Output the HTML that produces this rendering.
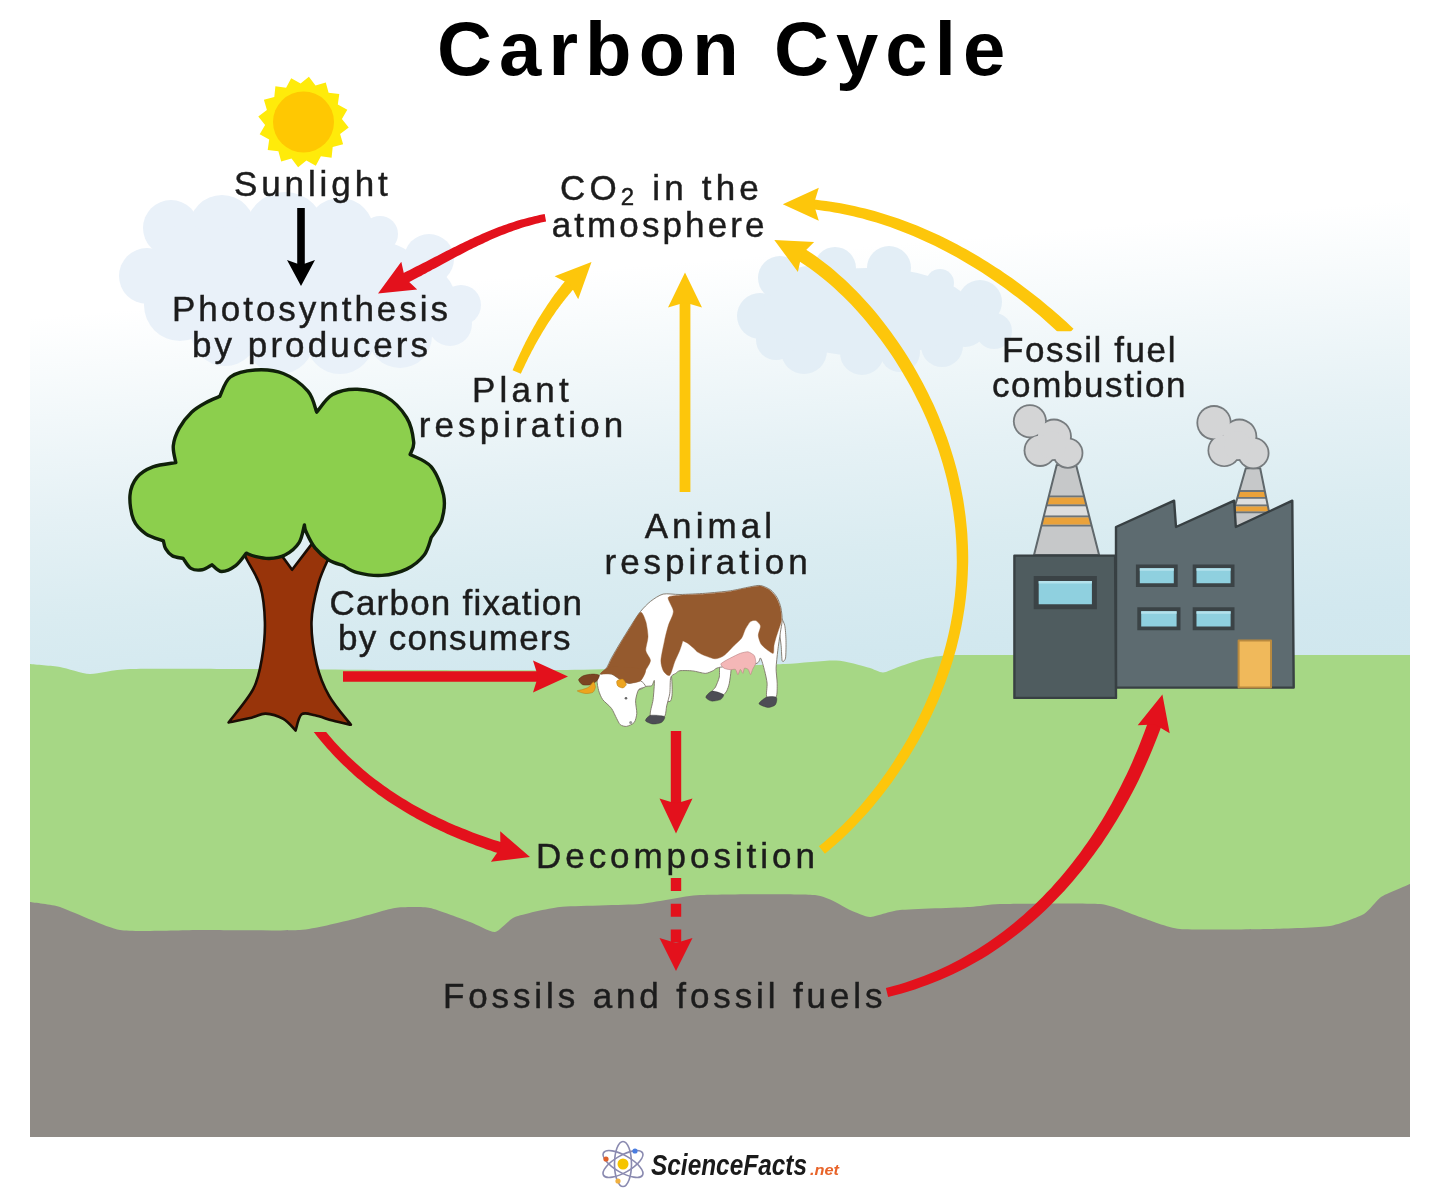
<!DOCTYPE html>
<html lang="en"><head><meta charset="utf-8"><title>Carbon Cycle</title>
<style>html,body{margin:0;padding:0;background:#fff}svg{display:block;filter:blur(0.55px)}</style>
</head><body>
<svg width="1440" height="1192" viewBox="0 0 1440 1192">
<!-- sec_bg -->
<defs>
<linearGradient id="sky" gradientUnits="userSpaceOnUse" x1="30" y1="318" x2="68.6" y2="769.7">
<stop offset="0" stop-color="#ffffff"/><stop offset="0.22" stop-color="#f2f8fa"/>
<stop offset="0.44" stop-color="#e5f1f5"/><stop offset="0.66" stop-color="#daecf1"/>
<stop offset="0.88" stop-color="#d2e8ef"/><stop offset="1" stop-color="#d0e7ee"/>
</linearGradient>
</defs>
<rect x="0" y="0" width="1440" height="1192" fill="#fff"/>
<rect x="30" y="185" width="1380" height="505" fill="url(#sky)"/>
<g fill="#e9f1f9"><circle cx="171" cy="228" r="28"/><circle cx="222" cy="228" r="33"/><circle cx="285" cy="232" r="40"/><circle cx="340" cy="232" r="34"/><circle cx="380" cy="234" r="18"/><circle cx="429" cy="259" r="25"/><circle cx="461" cy="305" r="20"/><circle cx="450" cy="324" r="22"/><circle cx="147" cy="276" r="28"/><circle cx="180" cy="305" r="36"/><circle cx="225" cy="332" r="34"/><circle cx="280" cy="340" r="34"/><circle cx="340" cy="340" r="34"/><circle cx="400" cy="336" r="32"/><circle cx="300" cy="285" r="55"/><circle cx="230" cy="275" r="48"/><circle cx="380" cy="290" r="48"/><circle cx="185" cy="255" r="30"/><circle cx="425" cy="298" r="30"/></g>
<g fill="#e3eef6"><circle cx="780" cy="278" r="22"/><circle cx="835" cy="268" r="21"/><circle cx="889" cy="268" r="22"/><circle cx="940" cy="283" r="14"/><circle cx="980" cy="302" r="22"/><circle cx="994" cy="331" r="18"/><circle cx="942" cy="346" r="21"/><circle cx="900" cy="352" r="20"/><circle cx="862" cy="353" r="22"/><circle cx="804" cy="351" r="23"/><circle cx="776" cy="340" r="20"/><circle cx="760" cy="316" r="23"/><circle cx="808" cy="292" r="26"/><circle cx="820" cy="300" r="30"/><circle cx="965" cy="325" r="22"/><ellipse cx="868" cy="312" rx="105" ry="44"/></g>
<path d="M30.0,664.0 C33.5,664.4 53.0,665.8 60.0,667.0 C67.0,668.2 81.8,673.8 90.0,674.0 C98.2,674.2 111.3,669.6 130.0,669.0 C148.7,668.4 218.5,668.9 250.0,669.0 C281.5,669.1 363.8,669.9 400.0,670.0 C436.2,670.1 525.0,670.4 560.0,670.0 C595.0,669.6 673.8,667.7 700.0,667.0 C726.2,666.3 769.1,664.8 785.0,664.0 C800.9,663.2 826.3,660.1 836.0,660.5 C845.7,660.9 862.5,666.1 868.0,667.5 C873.5,668.9 879.6,672.5 883.0,672.5 C886.4,672.5 892.6,669.0 897.0,667.5 C901.4,666.0 915.3,660.9 921.0,659.5 C926.7,658.1 936.8,656.0 946.0,655.5 C955.2,655.0 945.9,655.1 1000.0,655.0 C1054.1,654.9 1362.2,655.0 1410.0,655.0 L1410,960 L30,960Z" fill="#a6d785"/>
<path d="M30.0,902.0 C32.8,902.5 51.8,904.4 60.0,907.0 C68.2,909.6 107.2,927.9 120.0,930.0 C132.8,932.1 183.5,930.0 200.0,930.0 C216.5,930.0 286.2,930.9 300.0,930.0 C313.8,929.1 341.3,922.0 350.0,920.0 C358.7,918.0 387.7,909.1 395.0,908.0 C402.3,906.9 423.1,906.7 430.0,908.0 C436.9,909.3 464.0,919.8 470.0,922.0 C476.0,924.2 490.9,932.5 495.0,932.0 C499.1,931.5 509.0,919.3 515.0,917.0 C521.0,914.7 548.5,908.2 560.0,907.0 C571.5,905.8 627.2,905.1 640.0,904.0 C652.8,902.9 684.0,895.8 700.0,895.0 C716.0,894.2 801.2,893.6 815.0,895.0 C828.8,896.4 845.0,908.0 850.0,910.0 C855.0,912.0 865.4,917.0 870.0,917.0 C874.6,917.0 890.8,910.9 900.0,910.0 C909.2,909.1 960.8,907.5 970.0,907.0 C979.2,906.5 988.1,904.3 1000.0,904.0 C1011.9,903.7 1087.2,902.8 1100.0,904.0 C1112.8,905.2 1132.7,914.7 1140.0,917.0 C1147.3,919.3 1168.1,927.9 1180.0,929.0 C1191.9,930.1 1256.2,929.3 1270.0,929.0 C1283.8,928.7 1321.4,927.4 1330.0,926.0 C1338.6,924.6 1359.3,916.7 1364.0,914.0 C1368.7,911.3 1376.8,899.8 1381.0,897.0 C1385.2,894.2 1407.3,885.2 1410.0,884.0 L1410,1137 L30,1137Z" fill="#8f8b86"/>
<polygon points="308.9,76.8 315.5,85.4 325.8,82.4 328.6,92.8 339.3,93.9 337.8,104.6 347.3,109.7 341.9,119.1 348.7,127.4 340.1,134.0 343.1,144.3 332.7,147.1 331.6,157.8 320.9,156.3 315.8,165.8 306.4,160.4 298.1,167.2 291.5,158.6 281.2,161.6 278.4,151.2 267.7,150.1 269.2,139.4 259.7,134.3 265.1,124.9 258.3,116.6 266.9,110.0 263.9,99.7 274.3,96.9 275.4,86.2 286.1,87.7 291.2,78.2 300.6,83.6" fill="#ffeb0a"/><circle cx="303.5" cy="122" r="30.5" fill="#ffc802"/>
<!-- sec_tree -->
<path d="M241.0,546.2 C241.9,548.2 243.1,551.8 246.3,558.5 C249.5,565.2 257.3,576.1 260.4,586.7 C263.5,597.3 264.6,610.1 264.9,621.9 C265.2,633.6 264.0,646.0 262.1,657.2 C260.2,668.4 258.9,678.0 253.3,688.9 C247.7,699.8 232.7,716.8 228.6,722.4 C232.4,721.6 245.3,719.3 251.5,717.8 C257.7,716.3 260.3,713.4 265.6,713.6 C270.9,713.8 278.3,716.1 283.3,718.9 C288.3,721.7 293.6,728.6 295.6,730.5 C296.6,727.8 298.4,716.8 301.6,714.3 C304.8,711.8 309.8,714.2 315.0,715.3 C320.2,716.3 326.6,719.0 332.6,720.6 C338.6,722.2 347.8,724.1 350.9,724.8 C347.3,720.0 334.8,706.0 329.1,695.9 C323.4,685.8 319.6,676.5 316.7,664.2 C313.8,651.9 311.2,635.4 311.5,621.9 C311.8,608.4 315.3,594.7 318.5,583.2 C321.7,571.8 327.8,560.6 330.8,553.2 C333.9,545.9 335.8,541.5 336.8,539.1 L311.5,544.4 L292.1,569.8 L276.2,547.9Z" fill="#98340a" stroke="#1a0d05" stroke-width="2.6" stroke-linejoin="round"/>
<path d="M219.8,396.4 C221.6,393.2 224.5,381.4 230.4,377.0 C236.3,372.6 246.3,370.6 255.1,370.0 C263.9,369.4 274.5,370.0 283.3,373.5 C292.1,377.0 302.3,384.7 307.9,391.1 C313.5,397.6 315.2,408.7 316.7,412.2 C319.4,409.3 325.8,398.4 332.6,394.6 C339.4,390.8 348.5,389.0 357.3,389.3 C366.1,389.6 377.3,391.7 385.5,396.4 C393.7,401.1 401.9,409.9 406.6,417.5 C411.3,425.1 413.1,436.0 413.7,442.2 C414.3,448.4 410.7,452.4 410.1,454.5 C413.6,456.6 425.7,460.1 431.3,466.9 C436.9,473.7 441.8,486.3 443.6,495.1 C445.4,503.9 443.9,512.7 441.9,519.7 C439.8,526.8 433.1,534.5 431.3,537.4 C430.1,540.3 428.3,549.7 424.2,555.0 C420.1,560.3 413.7,565.7 406.6,569.1 C399.6,572.5 390.1,574.8 381.9,575.4 C373.7,576.0 363.8,574.2 357.3,572.6 C350.9,571.0 345.6,566.8 343.2,565.6 C340.9,564.7 333.8,563.2 329.1,560.3 C324.4,557.3 318.8,552.6 315.0,547.9 C311.2,543.2 308.0,535.9 306.2,532.1 C304.4,528.3 304.7,526.2 304.4,525.0 C303.5,527.9 302.3,537.6 299.1,542.6 C295.9,547.6 290.0,552.4 285.0,555.0 C280.0,557.6 274.2,558.3 269.2,558.5 C264.2,558.7 258.9,557.3 255.1,556.4 C251.3,555.5 247.8,553.7 246.3,553.2 C244.5,555.3 239.8,562.6 235.7,565.6 C231.6,568.6 225.5,571.6 221.6,571.5 C217.7,571.4 213.7,565.9 212.1,564.8 C210.4,565.6 205.7,569.2 202.2,569.8 C198.7,570.4 194.1,570.3 190.9,568.4 C187.7,566.5 184.5,560.1 183.2,558.5 C181.4,558.0 175.1,557.4 172.2,555.7 C169.3,554.1 167.1,551.1 165.6,548.6 C164.1,546.1 163.8,542.2 163.4,540.9 C160.5,539.7 150.8,537.3 145.8,533.8 C140.8,530.3 136.1,526.2 133.5,519.7 C130.9,513.2 129.4,502.2 130.0,495.1 C130.6,488.1 133.2,482.1 137.0,477.4 C140.8,472.7 146.4,469.4 152.9,466.9 C159.4,464.4 172.0,463.3 175.8,462.6 C175.4,459.8 172.7,451.4 173.3,445.7 C173.9,439.9 176.2,433.7 179.3,428.1 C182.4,422.5 187.2,416.4 191.6,412.2 C196.0,408.0 201.0,405.3 205.7,402.7 C210.4,400.1 217.5,397.4 219.8,396.4Z" fill="#8ccf4d" stroke="#10200a" stroke-width="3.4" stroke-linejoin="round"/>
<!-- sec_factory -->
<polygon points="1056.7,465.0 1076.1,465.0 1099.1,555.0 1034.0,555.0" fill="#c6c8c9"/>
<polygon points="1046.3,506.3 1086.6,506.3 1089.0,515.4 1044.0,515.4" fill="#dddede"/>
<polygon points="1049.0,495.5 1083.9,495.5 1084.4,497.4 1048.5,497.4" fill="#6d7478"/>
<polygon points="1046.8,504.3 1086.1,504.3 1086.6,506.3 1046.3,506.3" fill="#6d7478"/>
<polygon points="1048.5,497.4 1084.4,497.4 1086.1,504.3 1046.8,504.3" fill="#eaa23a"/>
<polygon points="1044.0,515.4 1089.0,515.4 1089.5,517.4 1043.5,517.4" fill="#6d7478"/>
<polygon points="1041.7,524.6 1091.3,524.6 1091.8,526.5 1041.2,526.5" fill="#6d7478"/>
<polygon points="1043.5,517.4 1089.5,517.4 1091.3,524.6 1041.7,524.6" fill="#eaa23a"/>
<polygon points="1056.7,465.0 1076.1,465.0 1099.1,555.0 1034.0,555.0" fill="none" stroke="#60686c" stroke-width="2" stroke-linejoin="round"/>
<g fill="#767b7e"><circle cx="1029.9" cy="421.3" r="17.0"/><circle cx="1054.0" cy="436.5" r="17.9"/><circle cx="1067.8" cy="453.1" r="15.6"/><circle cx="1040.1" cy="450.4" r="16.5"/><circle cx="1052.3" cy="445.4" r="15.6"/></g><g fill="#d4d5d6"><circle cx="1029.9" cy="421.3" r="15.2"/><circle cx="1054.0" cy="436.5" r="16.1"/><circle cx="1067.8" cy="453.1" r="13.8"/><circle cx="1040.1" cy="450.4" r="14.7"/><circle cx="1052.3" cy="445.4" r="13.8"/></g>
<polygon points="1245.8,468.3 1260.2,468.3 1272.4,528.4 1228.6,528.4" fill="#c6c8c9"/>
<polygon points="1237.1,498.8 1266.4,498.8 1267.6,504.6 1235.5,504.6" fill="#dddede"/>
<polygon points="1239.6,489.9 1264.6,489.9 1265.0,491.9 1239.1,491.9" fill="#6d7478"/>
<polygon points="1237.7,496.9 1266.0,496.9 1266.4,498.8 1237.1,498.8" fill="#6d7478"/>
<polygon points="1239.1,491.9 1265.0,491.9 1266.0,496.9 1237.7,496.9" fill="#eaa23a"/>
<polygon points="1235.5,504.6 1267.6,504.6 1268.0,506.6 1234.9,506.6" fill="#6d7478"/>
<polygon points="1233.6,511.3 1268.9,511.3 1269.3,513.2 1233.0,513.2" fill="#6d7478"/>
<polygon points="1234.9,506.6 1268.0,506.6 1268.9,511.3 1233.6,511.3" fill="#eaa23a"/>
<polygon points="1245.8,468.3 1260.2,468.3 1272.4,528.4 1228.6,528.4" fill="none" stroke="#60686c" stroke-width="2" stroke-linejoin="round"/>
<g fill="#767b7e"><circle cx="1214.0" cy="422.7" r="17.6"/><circle cx="1239.4" cy="436.5" r="17.9"/><circle cx="1253.3" cy="453.1" r="16.2"/><circle cx="1224.2" cy="450.4" r="16.7"/><circle cx="1237.8" cy="445.4" r="15.6"/></g><g fill="#d4d5d6"><circle cx="1214.0" cy="422.7" r="15.8"/><circle cx="1239.4" cy="436.5" r="16.1"/><circle cx="1253.3" cy="453.1" r="14.4"/><circle cx="1224.2" cy="450.4" r="15.0"/><circle cx="1237.8" cy="445.4" r="13.8"/></g>
<polygon points="1116.0,527.0 1174.1,500.7 1176.0,527.0 1234.2,500.7 1235.8,527.0 1292.3,500.7 1293.7,687.6 1116.0,687.6" fill="#5d6b70" stroke="#384043" stroke-width="2.4" stroke-linejoin="round"/>
<polygon points="1014.4,555.6 1115.1,555.6 1116.0,697.9 1014.4,697.9" fill="#4f5c5f" stroke="#384043" stroke-width="2.4" stroke-linejoin="round"/>
<polygon points="1033.7,576.0 1096.9,576.0 1096.9,609.3 1033.7,609.3" fill="#3b4346"/>
<polygon points="1038.7,581.0 1091.9,581.0 1091.9,604.3 1038.7,604.3" fill="#8fd0df"/>
<polygon points="1038.7,581.0 1091.9,581.0 1091.9,583.5 1038.7,583.5" fill="#b4e2ec"/>
<polygon points="1135.9,564.4 1177.7,564.4 1177.7,587.1 1135.9,587.1" fill="#3b4346"/>
<polygon points="1139.8,568.3 1173.8,568.3 1173.8,583.2 1139.8,583.2" fill="#8fd0df"/>
<polygon points="1139.8,568.3 1173.8,568.3 1173.8,570.8 1139.8,570.8" fill="#b4e2ec"/>
<polygon points="1192.7,564.4 1234.5,564.4 1234.5,587.1 1192.7,587.1" fill="#3b4346"/>
<polygon points="1196.5,568.3 1230.6,568.3 1230.6,583.2 1196.5,583.2" fill="#8fd0df"/>
<polygon points="1196.5,568.3 1230.6,568.3 1230.6,570.8 1196.5,570.8" fill="#b4e2ec"/>
<polygon points="1137.3,607.3 1180.5,607.3 1180.5,630.3 1137.3,630.3" fill="#3b4346"/>
<polygon points="1141.2,611.2 1176.6,611.2 1176.6,626.4 1141.2,626.4" fill="#8fd0df"/>
<polygon points="1141.2,611.2 1176.6,611.2 1176.6,613.7 1141.2,613.7" fill="#b4e2ec"/>
<polygon points="1192.7,607.3 1234.5,607.3 1234.5,630.3 1192.7,630.3" fill="#3b4346"/>
<polygon points="1196.5,611.2 1230.6,611.2 1230.6,626.4 1196.5,626.4" fill="#8fd0df"/>
<polygon points="1196.5,611.2 1230.6,611.2 1230.6,613.7 1196.5,613.7" fill="#b4e2ec"/>
<polygon points="1238.6,640.6 1271.0,640.6 1271.0,687.6 1238.6,687.6" fill="#f0b95b" stroke="#b98a3f" stroke-width="2" stroke-linejoin="round"/>
<!-- sec_cow -->
<path d="M720.3,665.6 C718.9,667.0 719.9,674.3 719.3,677.0 C718.7,679.7 716.4,685.2 715.5,687.0 C714.6,688.8 711.8,690.5 712.1,691.4 C712.4,692.3 716.4,693.6 717.8,694.0 C719.2,694.4 722.3,695.2 723.4,694.8 C724.5,694.4 726.1,692.2 726.8,690.8 C727.5,689.4 728.8,685.8 729.3,683.3 C729.8,680.8 730.9,672.9 731.0,670.7 C731.1,668.5 731.6,666.2 730.3,665.6 C729.0,665.0 721.7,664.2 720.3,665.6Z" fill="#ffffff" stroke="#7d7468" stroke-width="0.9" stroke-linejoin="round"/>
<path d="M705.8,697.1 C705.9,695.9 709.9,691.4 712.1,691.1 C714.3,690.8 722.4,693.5 723.4,694.6 C724.4,695.7 722.0,698.8 720.5,699.6 C719.0,700.4 713.3,701.4 711.5,701.1 C709.7,700.8 705.7,698.4 705.8,697.1Z" fill="#4d4d55" stroke="#333" stroke-width="0.4" stroke-linejoin="round"/>
<path d="M666.9,673.1 C667.2,671.2 670.6,673.1 671.3,675.6 C672.0,678.1 672.3,690.1 672.2,693.3 C672.1,696.4 671.3,699.9 670.7,700.8 C670.1,701.7 667.7,702.1 667.5,700.8 C667.3,699.5 668.9,694.2 668.8,690.7 C668.7,687.2 666.6,675.0 666.9,673.1Z" fill="#ffffff" stroke="#7d7468" stroke-width="0.9" stroke-linejoin="round"/>
<path d="M780.7,617.8 C781.4,617.2 784.0,622.6 784.7,625.4 C785.4,628.2 785.9,636.4 786.0,640.5 C786.1,644.6 786.0,655.6 785.5,658.1 C785.0,660.6 782.8,662.5 782.2,660.9 C781.7,659.3 781.5,649.3 781.1,645.5 C780.8,641.7 779.4,633.9 779.4,630.4 C779.4,626.9 780.0,618.4 780.7,617.8Z" fill="#ffffff" stroke="#7d7468" stroke-width="0.9" stroke-linejoin="round"/>
<path d="M601.5,673.1 C600.9,672.4 605.2,670.0 606.5,668.1 C607.8,666.2 609.8,661.1 611.5,658.0 C613.2,654.9 617.9,646.8 620.3,642.9 C622.7,639.0 627.9,630.5 630.4,626.6 C632.9,622.7 638.0,614.6 640.5,611.5 C643.0,608.4 647.7,603.6 650.5,601.4 C653.3,599.2 659.4,595.0 663.1,594.1 C666.8,593.2 674.7,594.6 680.0,594.5 C685.3,594.4 698.9,593.8 705.2,593.3 C711.5,592.8 724.8,591.6 730.3,590.8 C735.8,590.0 745.4,587.7 749.2,587.0 C753.0,586.3 757.8,585.1 760.5,585.5 C763.2,585.9 768.5,588.4 770.6,589.9 C772.7,591.4 775.9,595.5 777.2,597.7 C778.5,599.9 780.3,605.0 780.9,607.8 C781.5,610.6 782.3,617.2 782.2,620.3 C782.1,623.4 780.8,629.1 780.3,632.9 C779.8,636.7 778.3,646.1 777.8,650.5 C777.3,654.9 776.2,664.1 776.1,668.2 C776.0,672.3 777.2,679.7 777.2,683.3 C777.2,686.9 777.4,695.4 776.1,697.1 C774.8,698.8 767.9,698.8 766.8,697.1 C765.7,695.4 767.4,686.6 767.1,683.3 C766.8,680.0 765.4,673.9 764.6,670.7 C763.8,667.6 761.6,659.0 760.5,658.1 C759.4,657.2 760.5,662.7 755.5,663.8 C750.5,664.9 725.6,666.3 720.3,667.2 C714.9,668.1 714.6,670.1 712.7,670.9 C710.8,671.7 707.7,673.4 705.2,673.4 C702.7,673.4 695.8,671.2 692.6,670.9 C689.5,670.6 682.1,670.4 680.0,670.7 C677.9,671.0 676.9,672.5 675.7,673.4 C674.5,674.2 671.4,675.0 670.7,677.5 C670.0,680.0 670.3,689.8 669.8,693.3 C669.3,696.8 667.4,702.8 666.7,705.8 C666.0,708.8 666.1,715.6 664.1,716.9 C662.1,718.2 651.9,718.1 650.5,715.9 C649.1,713.7 652.6,704.0 653.1,699.6 C653.6,695.2 654.6,682.4 654.4,680.7 C654.2,679.0 652.9,685.0 651.8,685.7 C650.7,686.4 647.1,686.0 645.5,686.5 C643.9,687.0 640.6,690.1 638.6,689.7 C636.6,689.3 631.4,684.6 629.1,683.4 C626.8,682.1 622.5,680.9 620.3,679.7 C618.1,678.5 613.9,674.9 611.5,674.1 C609.1,673.3 602.1,673.9 601.5,673.1Z" fill="#ffffff" stroke="#7d7468" stroke-width="0.9" stroke-linejoin="round"/>
<path d="M668.2,597.6 C669.0,595.6 675.4,595.7 680.0,595.2 C684.6,594.7 698.9,594.4 705.2,593.9 C711.5,593.4 724.8,592.2 730.3,591.4 C735.8,590.6 745.4,588.3 749.2,587.6 C753.0,586.9 757.9,585.8 760.5,586.1 C763.1,586.5 768.1,588.9 770.1,590.4 C772.1,591.9 775.1,595.7 776.4,597.9 C777.7,600.1 779.7,605.0 780.3,607.8 C780.9,610.6 781.6,617.5 781.4,620.3 C781.2,623.1 779.1,628.2 778.4,630.4 C777.7,632.6 776.4,636.1 775.9,638.0 C775.4,639.9 774.3,643.6 774.0,645.5 C773.7,647.4 774.0,652.7 773.3,653.3 C772.6,653.9 769.6,651.6 768.1,650.5 C766.6,649.4 762.4,646.2 761.2,644.3 C760.0,642.4 758.4,637.7 758.3,635.4 C758.2,633.1 760.8,627.9 760.5,626.0 C760.2,624.1 757.0,621.1 755.8,620.6 C754.5,620.1 751.8,620.5 750.5,621.6 C749.2,622.7 746.5,627.1 745.4,629.1 C744.3,631.1 743.1,636.0 741.7,638.0 C740.3,640.0 736.3,643.3 734.1,645.5 C731.9,647.7 726.4,653.9 724.0,655.6 C721.6,657.3 717.6,658.8 715.2,658.8 C712.9,658.8 707.4,656.6 705.2,655.8 C703.0,655.0 699.0,653.0 697.6,652.1 C696.2,651.2 695.0,649.4 693.8,648.3 C692.5,647.2 689.0,644.2 687.6,643.2 C686.2,642.2 683.0,641.0 682.5,640.5 C682.0,640.0 683.6,638.1 683.3,639.4 C682.9,640.6 680.8,647.7 679.7,650.5 C678.6,653.3 676.0,658.7 674.7,661.8 C673.5,664.9 671.1,674.3 669.7,675.4 C668.3,676.5 664.5,672.8 663.4,670.9 C662.3,669.0 660.8,664.3 660.9,660.5 C661.0,656.7 663.7,644.8 664.6,640.4 C665.5,636.0 667.3,628.9 668.4,625.3 C669.5,621.7 673.4,615.0 673.4,611.5 C673.4,608.0 667.4,599.6 668.2,597.6Z" fill="#955a2e" stroke="#955a2e" stroke-width="0.4" stroke-linejoin="round"/>
<path d="M640.5,612.2 C638.6,612.9 633.2,622.9 630.7,626.8 C628.2,630.7 623.0,639.3 620.6,643.2 C618.2,647.1 613.6,655.2 611.9,658.3 C610.2,661.4 608.3,666.3 606.9,668.3 C605.5,670.3 600.0,673.3 600.6,674.0 C601.2,674.7 609.0,673.3 611.5,674.0 C614.0,674.7 618.1,678.2 620.3,679.4 C622.5,680.5 626.6,683.0 629.1,683.2 C631.6,683.4 638.5,682.3 640.5,680.7 C642.5,679.1 644.2,673.1 645.5,670.6 C646.8,668.1 650.5,663.0 650.5,660.5 C650.5,658.0 646.1,653.5 645.8,650.5 C645.5,647.5 648.0,640.2 648.0,636.6 C648.0,633.0 646.7,624.5 645.8,621.5 C644.9,618.5 642.4,611.5 640.5,612.2Z" fill="#955a2e" stroke="#955a2e" stroke-width="0.4" stroke-linejoin="round"/>
<path d="M720.9,663.8 C721.5,662.8 728.3,659.1 730.3,658.1 C732.2,657.1 738.6,653.9 740.4,653.3 C742.2,652.7 746.6,651.6 748.0,651.8 C749.4,652.0 753.5,654.5 754.3,655.6 C755.1,656.7 756.0,661.7 755.8,663.1 C755.6,664.5 753.1,668.2 752.6,669.4 C752.1,670.6 750.9,674.7 750.5,674.7 C750.1,674.7 748.8,670.0 748.2,669.4 C747.6,668.8 744.9,667.8 744.4,668.2 C743.9,668.6 743.3,673.3 742.9,673.4 C742.5,673.5 740.9,669.3 740.4,669.4 C739.9,669.5 738.4,674.7 737.9,674.7 C737.4,674.7 736.2,669.9 735.4,669.4 C734.6,668.9 731.4,669.8 730.3,669.7 C729.2,669.6 724.9,668.8 724.0,668.2 C723.1,667.6 720.3,664.8 720.9,663.8Z" fill="#f4b7b7" stroke="#b98585" stroke-width="0.6" stroke-linejoin="round"/>
<path d="M600.6,674.0 C598.8,674.8 597.3,678.6 597.1,680.7 C596.9,682.8 598.0,688.3 598.7,690.7 C599.4,693.1 601.1,697.4 602.7,699.6 C604.3,701.8 609.8,706.0 611.5,708.4 C613.2,710.8 615.5,716.4 616.6,718.4 C617.7,720.4 619.0,723.7 620.3,724.7 C621.5,725.7 624.9,726.7 626.6,726.4 C628.3,726.1 632.9,724.1 634.2,722.5 C635.5,720.9 636.6,716.1 636.8,713.4 C637.0,710.7 635.4,703.8 635.6,700.8 C635.8,697.8 637.4,691.5 638.6,689.7 C639.8,687.9 645.3,687.6 645.5,686.5 C645.7,685.4 642.5,681.3 640.5,680.9 C638.5,680.5 631.6,683.5 629.1,683.4 C626.6,683.2 622.5,680.9 620.3,679.7 C618.1,678.5 614.0,674.8 611.5,674.1 C609.0,673.4 602.4,673.2 600.6,674.0Z" fill="#ffffff" stroke="#7d7468" stroke-width="0.9" stroke-linejoin="round"/>
<path d="M600.6,674.0 C600.0,673.3 605.1,669.2 606.9,668.3 C608.7,667.4 611.7,666.8 615.3,666.8 C618.9,666.8 631.6,667.6 635.4,668.1 C639.2,668.6 644.9,669.0 645.5,670.6 C646.1,672.2 642.5,679.1 640.5,680.7 C638.5,682.3 631.6,683.4 629.1,683.2 C626.6,683.0 622.5,680.5 620.3,679.4 C618.1,678.2 614.0,674.7 611.5,674.0 C609.0,673.3 601.2,674.7 600.6,674.0Z" fill="#955a2e" stroke="#955a2e" stroke-width="0.4" stroke-linejoin="round"/>
<path d="M578.6,679.7 C578.8,678.6 582.0,676.3 583.8,675.6 C585.6,674.9 590.8,674.1 592.7,674.1 C594.6,674.1 598.7,674.5 599.2,675.4 C599.7,676.2 597.8,679.7 596.7,680.9 C595.6,682.1 591.9,684.2 590.1,684.7 C588.3,685.2 584.0,685.3 582.6,684.7 C581.2,684.1 578.5,680.8 578.6,679.7Z" fill="#7c4522" stroke="#5a3216" stroke-width="0.5" stroke-linejoin="round"/>
<path d="M577.3,691.0 C577.0,690.5 581.1,690.0 582.6,689.5 C584.1,689.0 587.5,688.0 588.9,687.0 C590.2,686.0 592.6,681.9 593.4,681.9 C594.2,681.9 595.5,685.7 595.4,687.0 C595.3,688.3 594.2,691.5 592.9,692.3 C591.6,693.1 587.1,693.7 585.1,693.5 C583.1,693.3 577.6,691.5 577.3,691.0Z" fill="#eda41f" stroke="#b87a10" stroke-width="0.5" stroke-linejoin="round"/>
<path d="M616.9,680.9 C617.5,680.0 621.7,678.8 622.9,679.2 C624.1,679.7 626.3,683.4 626.3,684.5 C626.3,685.6 624.0,687.7 622.9,687.9 C621.8,688.1 618.5,686.9 617.8,686.0 C617.0,685.1 616.3,681.8 616.9,680.9Z" fill="#eda41f" stroke="#b87a10" stroke-width="0.5" stroke-linejoin="round"/>
<path d="M645.5,720.7 C645.2,719.6 648.1,715.8 650.5,715.3 C652.9,714.8 663.0,715.6 664.4,716.5 C665.8,717.4 663.3,721.2 661.9,722.2 C660.5,723.2 655.1,724.3 653.1,724.1 C651.1,723.9 645.8,721.8 645.5,720.7Z" fill="#4d4d55" stroke="#333" stroke-width="0.4" stroke-linejoin="round"/>
<path d="M759.0,703.7 C758.8,702.4 764.6,697.9 766.8,697.1 C769.0,696.3 775.3,696.4 776.4,697.4 C777.5,698.4 776.4,703.5 775.4,704.7 C774.4,706.0 770.1,707.5 768.1,707.4 C766.1,707.3 759.2,705.0 759.0,703.7Z" fill="#4d4d55" stroke="#333" stroke-width="0.4" stroke-linejoin="round"/>
<circle cx="626.0" cy="698.3" r="1.3" fill="#666"/><circle cx="630.7" cy="722.5" r="1.5" fill="#999"/>
<!-- sec_arrows -->
<path d="M301.0,208.0 L301.0,268.0" fill="none" stroke="#000" stroke-width="7.6"/><path d="M301.0,286.0 L287.0,260.0 L301.0,265.0 L315.0,260.0Z" fill="#000"/>
<path d="M544.7,214.1 L542.0,214.6 L539.4,215.1 L536.8,215.7 L534.2,216.2 L531.6,216.9 L529.0,217.5 L526.4,218.2 L523.8,218.9 L521.3,219.6 L518.7,220.3 L516.2,221.1 L513.7,221.9 L511.2,222.7 L508.7,223.6 L506.2,224.4 L503.7,225.3 L501.2,226.2 L498.8,227.1 L496.3,228.1 L493.9,229.1 L491.4,230.0 L489.0,231.0 L486.6,232.0 L484.2,233.1 L481.8,234.1 L479.4,235.2 L477.0,236.2 L474.6,237.3 L472.2,238.4 L469.8,239.5 L467.4,240.7 L465.1,241.8 L462.7,242.9 L460.4,244.1 L458.0,245.2 L455.7,246.4 L453.3,247.6 L451.0,248.7 L448.6,249.9 L446.3,251.1 L444.0,252.3 L441.6,253.5 L439.3,254.7 L437.0,255.9 L434.7,257.1 L432.4,258.3 L430.0,259.5 L427.7,260.7 L425.4,261.9 L423.1,263.1 L420.8,264.3 L418.4,265.4 L416.1,266.6 L413.8,267.8 L411.5,269.0 L409.2,270.2 L406.9,271.3 L404.5,272.5 L402.2,273.6 L399.9,274.8 L404.7,284.4 L407.1,283.2 L409.4,282.0 L411.7,280.8 L414.0,279.6 L416.4,278.3 L418.7,277.1 L421.0,275.9 L423.3,274.6 L425.6,273.4 L427.9,272.1 L430.2,270.9 L432.5,269.6 L434.8,268.4 L437.1,267.2 L439.4,265.9 L441.6,264.7 L443.9,263.4 L446.2,262.2 L448.5,261.0 L450.8,259.7 L453.1,258.5 L455.4,257.3 L457.7,256.1 L460.0,254.9 L462.3,253.7 L464.6,252.5 L466.9,251.3 L469.2,250.1 L471.5,249.0 L473.8,247.8 L476.1,246.7 L478.4,245.6 L480.8,244.5 L483.1,243.4 L485.4,242.3 L487.8,241.2 L490.1,240.1 L492.4,239.1 L494.8,238.1 L497.2,237.1 L499.5,236.1 L501.9,235.1 L504.3,234.2 L506.7,233.2 L509.1,232.3 L511.5,231.4 L513.9,230.6 L516.3,229.7 L518.7,228.9 L521.2,228.1 L523.6,227.3 L526.1,226.6 L528.5,225.9 L531.0,225.2 L533.5,224.5 L536.0,223.8 L538.5,223.2 L541.0,222.6 L543.6,222.1 L546.1,221.5Z" fill="#e3111c"/><path d="M378.0,293.5 L401.3,261.7 L404.9,278.1 L417.2,289.5Z" fill="#e3111c"/>
<path d="M520.8,373.8 L521.5,372.2 L522.3,370.6 L523.0,369.1 L523.8,367.5 L524.5,365.9 L525.3,364.3 L526.0,362.7 L526.8,361.2 L527.6,359.6 L528.3,358.0 L529.1,356.5 L529.9,354.9 L530.7,353.4 L531.5,351.8 L532.3,350.3 L533.2,348.7 L534.0,347.2 L534.8,345.6 L535.7,344.1 L536.5,342.6 L537.4,341.0 L538.2,339.5 L539.1,338.0 L540.0,336.5 L540.9,335.0 L541.7,333.5 L542.6,332.0 L543.5,330.5 L544.5,329.0 L545.4,327.5 L546.3,326.0 L547.2,324.5 L548.2,323.1 L549.1,321.6 L550.1,320.2 L551.0,318.7 L552.0,317.3 L553.0,315.8 L554.0,314.4 L554.9,313.0 L555.9,311.5 L556.9,310.1 L558.0,308.7 L559.0,307.3 L560.0,305.9 L561.0,304.5 L562.1,303.2 L563.1,301.8 L564.2,300.4 L565.3,299.1 L566.3,297.7 L567.4,296.4 L568.5,295.1 L569.6,293.7 L570.7,292.4 L571.8,291.1 L573.0,289.8 L574.1,288.5 L575.2,287.2 L576.4,285.9 L567.5,278.2 L566.4,279.5 L565.2,280.9 L564.1,282.3 L562.9,283.7 L561.8,285.1 L560.7,286.5 L559.6,287.9 L558.5,289.3 L557.4,290.7 L556.3,292.2 L555.2,293.6 L554.1,295.0 L553.1,296.5 L552.0,298.0 L551.0,299.4 L550.0,300.9 L549.0,302.4 L547.9,303.9 L546.9,305.4 L546.0,306.9 L545.0,308.4 L544.0,309.9 L543.0,311.4 L542.1,312.9 L541.1,314.4 L540.2,316.0 L539.2,317.5 L538.3,319.0 L537.4,320.6 L536.5,322.1 L535.6,323.7 L534.7,325.2 L533.8,326.8 L532.9,328.4 L532.0,329.9 L531.2,331.5 L530.3,333.1 L529.4,334.7 L528.6,336.3 L527.8,337.8 L526.9,339.4 L526.1,341.0 L525.3,342.6 L524.5,344.2 L523.7,345.8 L522.9,347.5 L522.1,349.1 L521.4,350.7 L520.6,352.3 L519.8,353.9 L519.1,355.5 L518.3,357.2 L517.6,358.8 L516.8,360.4 L516.1,362.0 L515.4,363.7 L514.7,365.3 L514.0,366.9 L513.3,368.6 L512.6,370.2Z" fill="#fdc60b"/><path d="M591.5,262.0 L578.2,299.3 L569.9,284.2 L554.6,276.3Z" fill="#fdc60b"/>
<path d="M685.0,492.0 L685.0,299.5" fill="none" stroke="#fdc60b" stroke-width="10.8"/><path d="M685.0,272.5 L702.0,307.5 L685.0,302.5 L668.0,307.5Z" fill="#fdc60b"/>
<path d="M824.9,853.7 L829.1,850.3 L833.2,846.8 L837.4,843.1 L841.5,839.4 L845.6,835.5 L849.7,831.6 L853.7,827.5 L857.7,823.3 L861.7,819.1 L865.6,814.8 L869.5,810.4 L873.3,805.9 L877.1,801.3 L880.8,796.7 L884.5,792.0 L888.1,787.3 L891.7,782.4 L895.1,777.5 L898.6,772.6 L901.9,767.6 L905.2,762.6 L908.5,757.5 L911.6,752.3 L914.7,747.1 L917.7,741.9 L920.6,736.7 L923.5,731.3 L926.3,726.0 L929.0,720.6 L931.6,715.2 L934.1,709.8 L936.6,704.3 L939.0,698.8 L941.2,693.3 L943.4,687.8 L945.5,682.2 L947.5,676.6 L949.5,671.0 L951.3,665.4 L953.1,659.7 L954.7,654.1 L956.3,648.4 L957.7,642.7 L959.1,637.0 L960.4,631.3 L961.6,625.6 L962.6,619.9 L963.6,614.1 L964.5,608.4 L965.3,602.6 L966.0,596.9 L966.6,591.1 L967.1,585.4 L967.5,579.6 L967.8,573.8 L968.0,568.0 L968.2,562.3 L968.2,556.5 L968.1,550.7 L967.9,545.0 L967.6,539.2 L967.3,533.5 L966.8,527.7 L966.2,521.9 L965.6,516.2 L964.8,510.5 L964.0,504.7 L963.1,499.0 L962.0,493.3 L960.9,487.6 L959.7,481.9 L958.4,476.3 L957.0,470.6 L955.5,464.9 L953.9,459.3 L952.2,453.7 L950.4,448.1 L948.6,442.5 L946.7,437.0 L944.6,431.4 L942.5,425.9 L940.3,420.4 L938.1,414.9 L935.7,409.5 L933.3,404.1 L930.7,398.7 L928.1,393.3 L925.4,388.0 L922.7,382.7 L919.8,377.5 L916.9,372.2 L913.9,367.0 L910.9,361.9 L907.7,356.8 L904.5,351.7 L901.2,346.7 L897.8,341.8 L894.4,336.9 L890.9,332.0 L887.3,327.2 L883.7,322.4 L880.0,317.8 L876.2,313.1 L872.4,308.6 L868.4,304.1 L864.5,299.7 L860.4,295.3 L856.3,291.1 L852.2,286.9 L848.0,282.8 L843.7,278.8 L839.3,274.9 L834.9,271.1 L830.5,267.3 L825.9,263.7 L821.3,260.2 L816.7,256.8 L812.0,253.6 L807.3,250.4 L802.5,247.5 L795.4,258.9 L800.0,261.8 L804.5,264.7 L809.0,267.8 L813.4,271.0 L817.7,274.3 L822.1,277.7 L826.4,281.2 L830.6,284.8 L834.8,288.5 L838.9,292.4 L843.0,296.3 L847.0,300.3 L851.0,304.3 L854.9,308.5 L858.7,312.7 L862.5,317.0 L866.3,321.4 L869.9,325.9 L873.6,330.4 L877.1,335.0 L880.6,339.6 L884.0,344.3 L887.4,349.0 L890.7,353.8 L893.9,358.6 L897.0,363.5 L900.1,368.5 L903.1,373.4 L906.0,378.5 L908.9,383.5 L911.7,388.6 L914.4,393.7 L917.0,398.9 L919.6,404.0 L922.1,409.3 L924.5,414.5 L926.8,419.8 L929.0,425.1 L931.2,430.4 L933.3,435.7 L935.2,441.1 L937.2,446.4 L939.0,451.8 L940.7,457.3 L942.4,462.7 L943.9,468.1 L945.4,473.6 L946.8,479.1 L948.1,484.5 L949.3,490.0 L950.4,495.5 L951.5,501.1 L952.4,506.6 L953.3,512.1 L954.0,517.7 L954.7,523.2 L955.3,528.8 L955.7,534.3 L956.1,539.9 L956.4,545.5 L956.6,551.0 L956.7,556.6 L956.8,562.2 L956.7,567.8 L956.5,573.3 L956.2,578.9 L955.9,584.5 L955.4,590.1 L954.9,595.7 L954.2,601.2 L953.5,606.8 L952.7,612.4 L951.7,617.9 L950.7,623.5 L949.6,629.0 L948.4,634.6 L947.1,640.1 L945.7,645.6 L944.2,651.1 L942.7,656.6 L941.0,662.1 L939.2,667.6 L937.4,673.1 L935.5,678.5 L933.5,683.9 L931.4,689.3 L929.2,694.7 L926.9,700.1 L924.5,705.4 L922.1,710.7 L919.6,716.0 L917.0,721.3 L914.3,726.5 L911.5,731.7 L908.7,736.9 L905.8,742.0 L902.8,747.0 L899.8,752.1 L896.6,757.1 L893.5,762.0 L890.2,766.9 L886.9,771.8 L883.5,776.6 L880.1,781.3 L876.6,786.0 L873.0,790.6 L869.4,795.1 L865.7,799.6 L862.0,804.0 L858.3,808.3 L854.5,812.5 L850.7,816.7 L846.8,820.7 L842.9,824.7 L838.9,828.6 L835.0,832.3 L831.0,836.0 L827.0,839.5 L823.0,843.0 L818.9,846.3Z" fill="#fdc60b"/><path d="M774.3,239.9 L814.1,242.0 L801.6,254.6 L797.9,272.0Z" fill="#fdc60b"/>
<clipPath id="ac1"><rect x="700" y="100" width="500" height="231.3"/></clipPath><path d="M1073.5,328.7 L1070.0,325.4 L1066.4,322.1 L1062.7,318.8 L1059.1,315.5 L1055.3,312.3 L1051.6,309.1 L1047.8,305.9 L1044.0,302.7 L1040.2,299.6 L1036.3,296.5 L1032.4,293.4 L1028.5,290.4 L1024.5,287.4 L1020.6,284.4 L1016.5,281.5 L1012.5,278.6 L1008.4,275.7 L1004.3,272.9 L1000.2,270.1 L996.0,267.4 L991.8,264.7 L987.6,262.0 L983.4,259.4 L979.1,256.8 L974.8,254.3 L970.5,251.8 L966.2,249.3 L961.8,246.9 L957.4,244.6 L953.0,242.3 L948.6,240.0 L944.1,237.8 L939.6,235.6 L935.1,233.5 L930.6,231.5 L926.0,229.5 L921.5,227.5 L916.9,225.6 L912.2,223.8 L907.6,222.0 L903.0,220.2 L898.3,218.6 L893.6,217.0 L888.9,215.4 L884.2,213.9 L879.4,212.5 L874.6,211.1 L869.9,209.8 L865.1,208.6 L860.2,207.4 L855.4,206.3 L850.6,205.2 L845.7,204.2 L840.8,203.3 L835.9,202.5 L831.0,201.7 L826.1,201.0 L821.2,200.4 L816.2,199.8 L811.3,199.3 L810.3,209.1 L815.1,209.6 L819.9,210.2 L824.7,210.9 L829.5,211.6 L834.2,212.4 L839.0,213.3 L843.7,214.2 L848.4,215.2 L853.1,216.3 L857.8,217.4 L862.5,218.6 L867.1,219.9 L871.7,221.2 L876.4,222.6 L881.0,224.1 L885.5,225.6 L890.1,227.1 L894.6,228.8 L899.2,230.4 L903.7,232.2 L908.2,234.0 L912.6,235.8 L917.1,237.7 L921.5,239.7 L925.9,241.7 L930.3,243.7 L934.7,245.8 L939.0,248.0 L943.4,250.2 L947.7,252.5 L951.9,254.8 L956.2,257.1 L960.4,259.5 L964.6,261.9 L968.8,264.4 L973.0,266.9 L977.1,269.5 L981.2,272.1 L985.3,274.8 L989.4,277.5 L993.4,280.2 L997.4,283.0 L1001.4,285.8 L1005.3,288.6 L1009.2,291.5 L1013.1,294.4 L1017.0,297.3 L1020.8,300.3 L1024.6,303.3 L1028.4,306.3 L1032.2,309.4 L1035.9,312.5 L1039.6,315.6 L1043.2,318.8 L1046.8,322.0 L1050.4,325.2 L1054.0,328.4 L1057.5,331.7 L1061.0,335.0 L1064.5,338.3Z" fill="#fdc60b" clip-path="url(#ac1)"/><path d="M782.8,204.2 L818.8,187.7 L813.8,204.2 L818.8,220.7Z" fill="#fdc60b"/>
<path d="M343.0,676.5 L541.0,676.5" fill="none" stroke="#e3111c" stroke-width="10.4"/><path d="M568.0,676.5 L533.0,692.5 L538.0,676.5 L533.0,660.5Z" fill="#e3111c"/>
<clipPath id="ac2"><rect x="250" y="732" width="400" height="300"/></clipPath><path d="M312.2,729.9 L314.6,733.1 L317.0,736.2 L319.5,739.2 L322.0,742.3 L324.6,745.2 L327.1,748.2 L329.8,751.1 L332.4,753.9 L335.0,756.7 L337.7,759.5 L340.4,762.3 L343.2,765.0 L346.0,767.6 L348.8,770.2 L351.6,772.8 L354.5,775.4 L357.3,777.9 L360.3,780.3 L363.2,782.8 L366.1,785.2 L369.1,787.5 L372.1,789.8 L375.2,792.1 L378.2,794.4 L381.3,796.6 L384.4,798.8 L387.6,800.9 L390.7,803.0 L393.9,805.1 L397.1,807.1 L400.3,809.1 L403.5,811.1 L406.8,813.0 L410.1,814.9 L413.4,816.8 L416.7,818.7 L420.0,820.5 L423.4,822.3 L426.8,824.0 L430.2,825.7 L433.6,827.4 L437.0,829.1 L440.5,830.7 L443.9,832.3 L447.4,833.9 L450.9,835.4 L454.5,836.9 L458.0,838.4 L461.5,839.9 L465.1,841.3 L468.7,842.7 L472.3,844.1 L475.9,845.5 L479.5,846.8 L483.1,848.1 L486.8,849.4 L490.5,850.6 L494.1,851.9 L497.8,853.1 L501.5,854.3 L504.9,843.4 L501.3,842.2 L497.7,841.1 L494.0,839.9 L490.4,838.7 L486.9,837.5 L483.3,836.2 L479.7,835.0 L476.2,833.7 L472.7,832.4 L469.2,831.0 L465.7,829.6 L462.2,828.2 L458.7,826.8 L455.3,825.4 L451.9,823.9 L448.4,822.4 L445.0,820.8 L441.7,819.3 L438.3,817.7 L435.0,816.1 L431.6,814.4 L428.3,812.7 L425.1,811.0 L421.8,809.3 L418.6,807.5 L415.3,805.7 L412.1,803.9 L408.9,802.0 L405.8,800.1 L402.6,798.2 L399.5,796.3 L396.4,794.3 L393.4,792.2 L390.3,790.2 L387.3,788.1 L384.3,786.0 L381.3,783.8 L378.3,781.6 L375.4,779.4 L372.5,777.2 L369.6,774.9 L366.7,772.5 L363.9,770.2 L361.1,767.8 L358.3,765.3 L355.5,762.8 L352.8,760.3 L350.1,757.8 L347.4,755.2 L344.8,752.6 L342.2,749.9 L339.6,747.2 L337.0,744.4 L334.4,741.7 L331.9,738.8 L329.5,736.0 L327.0,733.1 L324.6,730.1 L322.2,727.1 L319.8,724.1Z" fill="#e3111c" clip-path="url(#ac2)"/><path d="M530.0,857.0 L490.9,861.8 L500.4,847.9 L500.2,831.2Z" fill="#e3111c"/>
<path d="M676.0,731.0 L676.0,806.5" fill="none" stroke="#e3111c" stroke-width="10.4"/><path d="M676.0,833.5 L659.5,798.5 L676.0,803.5 L692.5,798.5Z" fill="#e3111c"/>
<path d="M676.0,878.0 L676.0,946.0" fill="none" stroke="#e3111c" stroke-width="10.4" stroke-dasharray="13 12.7"/><path d="M676.0,971.0 L659.5,938.0 L676.0,943.0 L692.5,938.0Z" fill="#e3111c"/>
<path d="M888.1,997.0 L894.9,995.3 L901.7,993.4 L908.3,991.5 L914.9,989.4 L921.5,987.1 L927.9,984.8 L934.3,982.3 L940.6,979.7 L946.8,977.0 L952.9,974.2 L959.0,971.3 L965.0,968.2 L970.9,965.0 L976.7,961.7 L982.5,958.4 L988.2,954.9 L993.8,951.3 L999.3,947.6 L1004.7,943.7 L1010.1,939.8 L1015.4,935.8 L1020.6,931.7 L1025.8,927.6 L1030.9,923.3 L1035.8,918.9 L1040.8,914.4 L1045.6,909.9 L1050.4,905.3 L1055.0,900.6 L1059.6,895.8 L1064.2,890.9 L1068.6,886.0 L1073.0,880.9 L1077.3,875.8 L1081.5,870.7 L1085.7,865.4 L1089.7,860.1 L1093.7,854.8 L1097.6,849.3 L1101.5,843.9 L1105.2,838.3 L1108.9,832.7 L1112.5,827.0 L1116.1,821.3 L1119.5,815.5 L1122.9,809.7 L1126.2,803.8 L1129.4,797.9 L1132.6,792.0 L1135.7,786.0 L1138.7,779.9 L1141.6,773.8 L1144.4,767.7 L1147.2,761.5 L1149.9,755.3 L1152.5,749.1 L1155.0,742.8 L1157.5,736.5 L1159.9,730.2 L1162.2,723.9 L1149.0,719.2 L1146.8,725.5 L1144.6,731.6 L1142.2,737.8 L1139.8,744.0 L1137.4,750.1 L1134.8,756.1 L1132.2,762.2 L1129.5,768.2 L1126.7,774.2 L1123.8,780.1 L1120.9,786.0 L1117.9,791.8 L1114.8,797.6 L1111.7,803.4 L1108.5,809.1 L1105.2,814.8 L1101.8,820.4 L1098.3,825.9 L1094.8,831.4 L1091.2,836.9 L1087.6,842.3 L1083.8,847.6 L1080.0,852.9 L1076.1,858.1 L1072.1,863.2 L1068.1,868.3 L1064.0,873.3 L1059.8,878.2 L1055.5,883.1 L1051.2,887.9 L1046.7,892.6 L1042.3,897.2 L1037.7,901.7 L1033.1,906.2 L1028.3,910.6 L1023.5,914.9 L1018.7,919.1 L1013.7,923.2 L1008.7,927.3 L1003.6,931.2 L998.5,935.0 L993.2,938.8 L987.9,942.4 L982.5,946.0 L977.1,949.5 L971.5,952.8 L965.9,956.1 L960.2,959.2 L954.4,962.2 L948.6,965.2 L942.7,968.0 L936.7,970.7 L930.6,973.3 L924.4,975.7 L918.2,978.1 L911.9,980.3 L905.5,982.4 L899.1,984.4 L892.5,986.3 L885.9,988.0Z" fill="#e3111c"/><path d="M1162.4,694.4 L1169.7,733.3 L1154.9,724.5 L1137.7,725.3Z" fill="#e3111c"/>
<!-- sec_text -->
<g font-family="'Liberation Sans', Arial, sans-serif" fill="#1c1c1c" stroke="#1c1c1c" stroke-width="0.45">
<text x="234.0" y="196.0" font-size="35" letter-spacing="3.89">Sunlight</text>
<text x="172.0" y="321.0" font-size="35" letter-spacing="2.97">Photosynthesis</text>
<text x="192.0" y="357.0" font-size="35" letter-spacing="3.06">by producers</text>
<text x="560.0" y="200.0" font-size="35" letter-spacing="4.17">CO<tspan font-size="24" dy="5">2</tspan><tspan dy="-5"> in the</tspan></text>
<text x="551.7" y="237.3" font-size="35" letter-spacing="3.10">atmosphere</text>
<text x="472.0" y="401.7" font-size="35" letter-spacing="4.24">Plant</text>
<text x="418.7" y="437.0" font-size="35" letter-spacing="4.11">respiration</text>
<text x="644.7" y="537.5" font-size="35" letter-spacing="4.08">Animal</text>
<text x="604.5" y="574.0" font-size="35" letter-spacing="3.97">respiration</text>
<text x="329.4" y="614.6" font-size="35" letter-spacing="1.22">Carbon fixation</text>
<text x="338.0" y="649.6" font-size="35" letter-spacing="1.33">by consumers</text>
<text x="1002.1" y="361.6" font-size="35" letter-spacing="1.58">Fossil fuel</text>
<text x="992.0" y="397.2" font-size="35" letter-spacing="1.61">combustion</text>
<text x="536.0" y="867.9" font-size="35" letter-spacing="3.95">Decomposition</text>
<text x="443.0" y="1007.5" font-size="35" letter-spacing="3.88">Fossils and fossil fuels</text>
</g>
<text x="437.0" y="75.0" font-family="'Liberation Sans', Arial, sans-serif" font-weight="bold" font-size="76" letter-spacing="7.12" fill="#000">Carbon Cycle</text>
<!-- sec_logo -->
<g transform="translate(623,1164)"><g fill="none" stroke="#8a8ab0" stroke-width="1.6"><ellipse cx="0" cy="0" rx="22.5" ry="8.5" transform="rotate(30)"/><ellipse cx="0" cy="0" rx="22.5" ry="8.5" transform="rotate(90)"/><ellipse cx="0" cy="0" rx="22.5" ry="8.5" transform="rotate(150)"/></g><circle r="5.5" fill="#f5c400"/><circle cx="12" cy="-13" r="2.6" fill="#4a7de0"/><circle cx="-17" cy="-5" r="2.6" fill="#e0602a"/><circle cx="-5" cy="17" r="2.6" fill="#f0b040"/></g>
<text x="651" y="1175" font-family="'Liberation Sans', sans-serif" font-style="italic" font-weight="bold" font-size="30" fill="#1a1a1a" textLength="156" lengthAdjust="spacingAndGlyphs">ScienceFacts</text>
<text x="810" y="1175" font-family="'Liberation Sans', sans-serif" font-style="italic" font-weight="bold" font-size="15" fill="#e8642a" textLength="29" lengthAdjust="spacingAndGlyphs">.net</text>
</svg>
</body></html>
